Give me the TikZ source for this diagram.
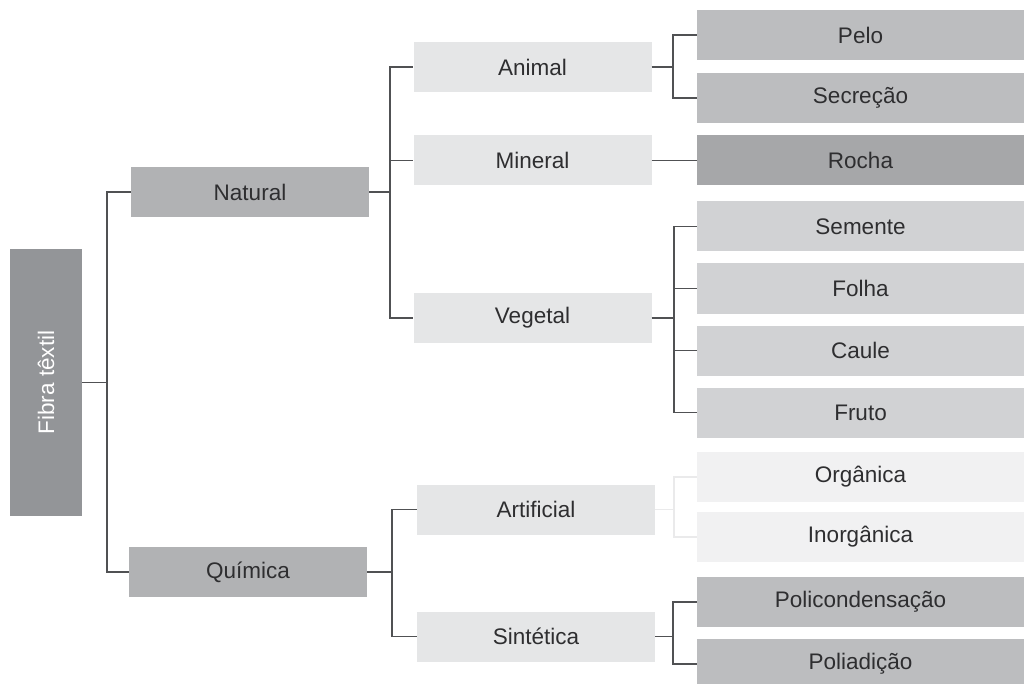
\documentclass[tikz,border=0pt]{standalone}
\usepackage{fontspec}
\setmainfont{Liberation Sans}
\definecolor{rootgray}{HTML}{939598}
\definecolor{midgray}{HTML}{B1B2B4}
\definecolor{palegray}{HTML}{E5E6E7}
\definecolor{leafgray}{HTML}{BCBDBF}
\definecolor{rockgray}{HTML}{A6A7A9}
\definecolor{plantgray}{HTML}{D1D2D4}
\definecolor{faintgray}{HTML}{F1F1F2}
\definecolor{linkgray}{HTML}{505153}
\definecolor{textgray}{HTML}{2E2E30}

\begin{document}
\begin{tikzpicture}[x=1pt, y=-1pt]
  \tikzset{
    box/.style={rectangle, inner sep=0pt, minimum height=50pt, text=textgray,
      font=\fontsize{22.5}{26}\selectfont},
    branch/.style={box, fill=midgray, minimum width=238pt},
    kind/.style={box, fill=palegray, minimum width=238pt},
    leaf/.style={box, minimum width=327pt},
    link/.style={draw=linkgray, line width=1.7pt},
    ghostlink/.style={draw=faintgray!85!black!20!faintgray, line width=1.7pt}
  }
  \useasboundingbox (0,0) rectangle (1024,684);

  % root
  \node[box, fill=rootgray, text=white, minimum width=72pt, minimum height=267pt]
    (fibra) at (46,382.5) {\rotatebox{90}{Fibra têxtil}};

  % first level
  \node[branch] (nat) at (250,192) {Natural};
  \node[branch] (qui) at (248,572) {Química};

  % second level
  \node[kind] (ani) at (532.5,67) {Animal};
  \node[kind] (min) at (532.5,160.5) {Mineral};
  \node[kind] (veg) at (532.5,318) {Vegetal};
  \node[kind] (art) at (536,509.5) {Artificial};
  \node[kind] (sin) at (536,636.5) {Sintética};

  % leaves
  \node[leaf, fill=leafgray] (pelo) at (860.5,35) {Pelo};
  \node[leaf, fill=leafgray] (secr) at (860.5,98) {Secreção};
  \node[leaf, fill=rockgray] (rocha) at (860.5,160.5) {Rocha};
  \foreach \lbl [count=\i] in {Semente, Folha, Caule, Fruto} {
    \node[leaf, fill=plantgray] (veg\i) at (860.5,226.5+62*\i-62) {\lbl};
  }
  \node[leaf, fill=faintgray] (org) at (860.5,477) {Orgânica};
  \node[leaf, fill=faintgray] (inorg) at (860.5,537) {Inorgânica};
  \node[leaf, fill=leafgray] (polc) at (860.5,602) {Policondensação};
  \node[leaf, fill=leafgray] (pola) at (860.5,664) {Poliadição};

  % connectors
  \draw[link] (fibra.east) -- ++(25,0) coordinate (trunk);
  \draw[link] (trunk) |- (nat.west);
  \draw[link] (trunk) |- (qui.west);

  \draw[link] (nat.east) -- ++(21,0) coordinate (natfork);
  \foreach \kid in {ani, min, veg}
    \draw[link] (natfork) |- (\kid.west);

  \draw[link] (qui.east) -- ++(25,0) coordinate (quifork);
  \foreach \kid in {art, sin}
    \draw[link] (quifork) |- (\kid.west);

  \draw[link] (ani.east) -- ++(21,0) coordinate (anifork);
  \foreach \kid in {pelo, secr}
    \draw[link] (anifork) |- (\kid.west);

  \draw[link] (min.east) -- (rocha.west);

  \draw[link] (veg.east) -- ++(22,0) coordinate (vegfork);
  \foreach \i in {1,...,4}
    \draw[link] (vegfork) |- (veg\i.west);

  \draw[ghostlink] (art.east) -- ++(19,0) coordinate (artfork);
  \foreach \kid in {org, inorg}
    \draw[ghostlink] (artfork) |- (\kid.west);

  \draw[link] (sin.east) -- ++(18,0) coordinate (sinfork);
  \foreach \kid in {polc, pola}
    \draw[link] (sinfork) |- (\kid.west);
\end{tikzpicture}
\end{document}
